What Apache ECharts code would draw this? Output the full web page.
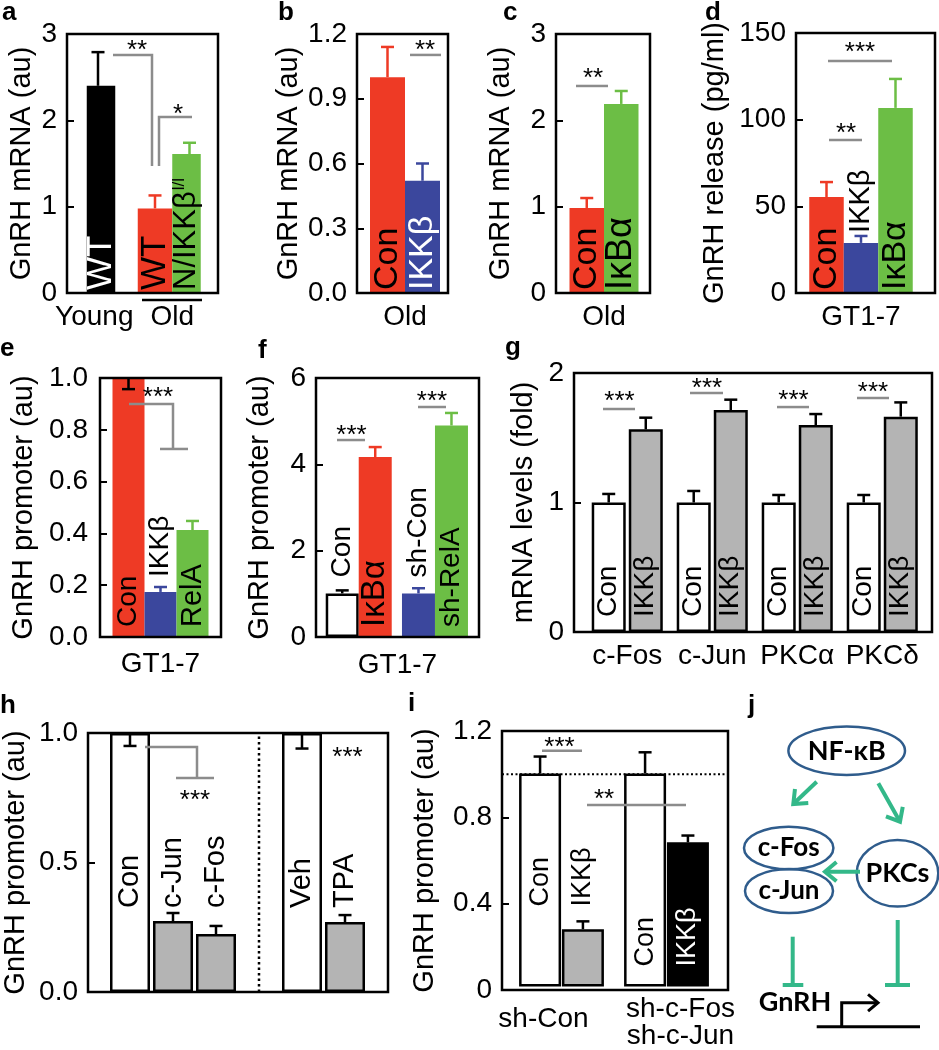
<!DOCTYPE html>
<html><head><meta charset="utf-8">
<script src="https://cdn.jsdelivr.net/npm/echarts@6/dist/echarts.min.js"></script>
<style>html,body{margin:0;padding:0;background:#fff}#c{width:939px;height:1050px}</style>
</head><body><div id="c"></div>
<script>
// ---------------- DATA ----------------
// a
const aCategories = ['Young', 'Old'];
const aBarLabels = ['WT', 'WT', 'N/IKKβ'];
const aValues = [2.40, 0.98, 1.61];
const aErrors = [0.39, 0.15, 0.13];
const aTicks = ['0', '1', '2', '3'];
// b
const bCategories = ['Old'];
const bBarLabels = ['Con', 'IKKβ'];
const bValues = [1.00, 0.52];
const bErrors = [0.14, 0.08];
const bTicks = ['0.0', '0.3', '0.6', '0.9', '1.2'];
// c
const cCategories = ['Old'];
const cBarLabels = ['Con', 'IκBα'];
const cValues = [0.985, 2.19];
const cErrors = [0.115, 0.15];
const cTicks = ['0', '1', '2', '3'];
// d
const dCategories = ['GT1-7'];
const dBarLabels = ['Con', 'IKKβ', 'IκBα'];
const dValues = [55.4, 28.9, 106.8];
const dErrors = [8.6, 4.0, 16.7];
const dTicks = ['0', '50', '100', '150'];
// e
const eCategories = ['GT1-7'];
const eBarLabels = ['Con', 'IKKβ', 'RelA'];
const eValues = [1.00, 0.174, 0.413];
const eErrors = [0.043, 0.019, 0.035];
const eTicks = ['0.0', '0.2', '0.4', '0.6', '0.8', '1.0'];
// f
const fAxisName = 'GT1-7';
const fGroups = ['Con / IκBα', 'sh-Con / sh-RelA'];
const fBarLabels = ['Con', 'IκBα', 'sh-Con', 'sh-RelA'];
const fValues = [1.01, 4.17, 1.01, 4.90];
const fErrors = [0.07, 0.23, 0.12, 0.29];
const fTicks = ['0', '2', '4', '6'];
// g
const gCategories = ['c-Fos', 'c-Jun', 'PKCα', 'PKCδ'];
const gBarLabels = ['Con', 'IKKβ'];
const gConValues = [1.0, 1.0, 1.0, 1.0];
const gConErrors = [0.066, 0.089, 0.058, 0.058];
const gIkkValues = [1.565, 1.714, 1.598, 1.663];
const gIkkErrors = [0.09, 0.08, 0.085, 0.11];
const gTicks = ['0', '1', '2'];
// h
const hCategories = ['', 'Con', 'c-Jun', 'c-Fos', ' ', 'Veh', 'TPA', '  '];
const hValues = [null, 1.0, 0.274, 0.224, null, 1.0, 0.270, null];
const hErrors = [null, 0.05, 0.031, 0.031, null, 0.06, 0.027, null];
const hTicks = ['0.0', '0.5', '1.0'];
// i
const iCategories = ['sh-Con', 'sh-c-Fos\nsh-c-Jun'];
const iBarLabels = ['Con', 'IKKβ'];
const iConValues = [1.0, 1.0];
const iConErrors = [0.08, 0.10];
const iIkkValues = [0.269, 0.677];
const iIkkErrors = [0.037, 0.032];
const iTicks = ['0', '0.4', '0.8', '1.2'];
// j (diagram text)
const jNodes = ['NF-κB', 'c-Fos', 'c-Jun', 'PKCs', 'GnRH'];

// ---------------- STYLE ----------------
const FONT = '"Liberation Sans", Arial, Helvetica, sans-serif';
const RED = '#EE3A25', BLUE = '#3B479D', GREEN = '#6CBE45', GREY = '#B4B4B4';
const BLACK = '#000000', WHITE = '#FFFFFF', SIG = '#8C8C8C';
const TEAL = '#33B889', NAVY = '#2F5C8C';
const get = (a, i) => Array.isArray(a) ? a[i] : a;

const panels = [
 { // a
  frame:{left:67,top:34,width:151,height:259}, barArea:{left:86.75,width:114},
  yMax:3, yInterval:1, ticks:aTicks, yName:'GnRH mRNA (au)', yNameGap:31,
  cats:[{value:aCategories[0], textStyle:{padding:[0,42,0,0]}}, aCategories[1]], catMargin:11,
  barWidth:34.5, barGap:0, labelSize:35,
  series:[
   {values:[aValues[0],aValues[1]], errors:[aErrors[0],aErrors[1]], colors:[BLACK,RED], errColors:[BLACK,RED],
    labels:[aBarLabels[0],aBarLabels[1]], labelColors:[WHITE,BLACK], labelPos:'in', labelDist:3},
   {values:[null,aValues[2]], errors:[null,aErrors[2]], colors:GREEN, errColors:GREEN,
    labels:['',aBarLabels[2]+'{s|l/l}'], labelColors:BLACK, labelPos:'in', labelDist:3, labelSize:31}
  ],
  lines:[{pts:[[0,-2.25,2.757],[1,-20.25,2.757],[1,-20.25,1.471]]},
         {pts:[[1,-13.25,1.471],[1,-13.25,2.039],[1,19.75,2.039]]},
         {pts:[[1,-30.25,-0.081],[1,29.75,-0.081]], color:BLACK}],
  stars:[[0,21.75,2.873,'**'],[1,5.75,2.137,'*']]
 },
 { // b
  frame:{left:357,top:34,width:91,height:259}, barArea:{left:359.5,width:91},
  yMax:1.2, yInterval:0.3, ticks:bTicks, yName:'GnRH mRNA (au)', yNameGap:54,
  cats:bCategories, catMargin:11, barWidth:35, barGap:0, labelSize:34,
  series:[
   {values:[bValues[0]], errors:[bErrors[0]], colors:RED, errColors:RED, labels:bBarLabels[0], labelColors:BLACK, labelPos:'in', labelDist:3},
   {values:[bValues[1]], errors:[bErrors[1]], colors:BLUE, errColors:BLUE, labels:bBarLabels[1], labelColors:WHITE, labelPos:'in', labelDist:3}
  ],
  lines:[{pts:[[0,5,1.103],[0,36,1.103]]}],
  stars:[[0,20,1.149,'**']]
 },
 { // c
  frame:{left:556,top:34,width:94,height:259}, barArea:{left:557,width:94},
  yMax:3, yInterval:1, ticks:cTicks, yName:'GnRH mRNA (au)', yNameGap:41,
  cats:cCategories, catMargin:11, barWidth:34.5, barGap:0, labelSize:34,
  series:[
   {values:[cValues[0]], errors:[cErrors[0]], colors:RED, errColors:RED, labels:cBarLabels[0], labelColors:BLACK, labelPos:'in', labelDist:3},
   {values:[cValues[1]], errors:[cErrors[1]], colors:GREEN, errColors:GREEN, labels:cBarLabels[1], labelColors:BLACK, labelPos:'in', labelDist:3, labelSize:36}
  ],
  lines:[{pts:[[0,-28,2.398],[0,4,2.398]]}],
  stars:[[0,-11,2.548,'**']]
 },
 { // d
  frame:{left:796,top:33,width:139,height:260}, barArea:{left:791.5,width:139},
  yMax:150, yInterval:50, ticks:dTicks, yName:'GnRH release (pg/ml)', yNameGap:67,
  cats:dCategories, catMargin:11, barWidth:34.5, barGap:0, labelSize:34,
  series:[
   {values:[dValues[0]], errors:[dErrors[0]], colors:RED, errColors:RED, labels:dBarLabels[0], labelColors:BLACK, labelPos:'in', labelDist:3},
   {values:[dValues[1]], errors:[dErrors[1]], colors:BLUE, errColors:BLUE, labels:dBarLabels[1], labelColors:BLACK, labelPos:'top', labelDist:10, labelSize:29},
   {values:[dValues[2]], errors:[dErrors[2]], colors:GREEN, errColors:GREEN, labels:dBarLabels[2], labelColors:BLACK, labelPos:'in', labelDist:3}
  ],
  lines:[{pts:[[0,-33,133.8],[0,31,133.8]]},{pts:[[0,-32,88.3],[0,1,88.3]]}],
  stars:[[0,-1,141.9,'***'],[0,-15,95.5,'**']]
 },
 { // e
  frame:{left:100,top:378,width:121,height:259},
  yMax:1.0, yInterval:0.2, ticks:eTicks, yName:'GnRH promoter (au)', yNameGap:62, tickMargin:12,
  cats:eCategories, catMargin:14, barWidth:32, barGap:0, labelSize:28,
  series:[
   {values:[eValues[0]], errors:[eErrors[0]], errDir:-1, colors:RED, errColors:BLACK, labels:eBarLabels[0], labelColors:BLACK, labelPos:'in', labelDist:10},
   {values:[eValues[1]], errors:[eErrors[1]], colors:BLUE, errColors:BLUE, labels:eBarLabels[1], labelColors:BLACK, labelPos:'top', labelDist:15},
   {values:[eValues[2]], errors:[eErrors[2]], colors:GREEN, errColors:GREEN, labels:eBarLabels[2], labelColors:BLACK, labelPos:'in', labelDist:10, labelSize:29}
  ],
  lines:[{pts:[[0,-31.5,0.90],[0,12.5,0.90],[0,12.5,0.726]]},{pts:[[0,-0.5,0.726],[0,27.5,0.726]]}],
  stars:[[0,-2.5,0.946,'***']]
 },
 { // f
  frame:{left:316,top:378,width:163,height:259}, barArea:{left:320.6,width:152.5},
  yMax:6, yInterval:2, ticks:fTicks, yName:'GnRH promoter (au)', yNameGap:42,
  cats:fGroups, hideCats:true, xName:fAxisName, xNameGap:14, barWidth:33, barGap:0, labelSize:28,
  series:[
   {values:[fValues[0],fValues[2]], errors:[fErrors[0],fErrors[2]], colors:[WHITE,BLUE], border:[true,false], errColors:[BLACK,BLUE],
    labels:[fBarLabels[0],fBarLabels[2]], labelColors:BLACK, labelPos:'top', labelDist:16},
   {values:[fValues[1],fValues[3]], errors:[fErrors[1],fErrors[3]], colors:[RED,GREEN], errColors:[RED,GREEN],
    labels:[fBarLabels[1],fBarLabels[3]], labelColors:BLACK, labelPos:'in', labelDist:10, labelSize:[33,28]}
  ],
  lines:[{pts:[[0,-21.75,4.563],[0,6.25,4.563]]},{pts:[[1,-17,5.328],[1,11,5.328]]}],
  stars:[[0,-7.25,4.795,'***'],[1,-3,5.583,'***']]
 },
 { // g
  frame:{left:574,top:373,width:358,height:259}, barArea:{left:584.75,width:340},
  yMax:2, yInterval:1, ticks:gTicks, yName:'mRNA levels (fold)', yNameGap:36,
  cats:gCategories, catMargin:11, barWidth:34, barGap:0.09, labelSize:28,
  series:[
   {values:gConValues, errors:gConErrors, colors:WHITE, border:true, errColors:BLACK, labels:gBarLabels[0], labelColors:BLACK, labelPos:'in', labelDist:15},
   {values:gIkkValues, errors:gIkkErrors, colors:GREY, border:true, errColors:BLACK, labels:gBarLabels[1], labelColors:BLACK, labelPos:'in', labelDist:15}
  ],
  lines:[{pts:[[0,-24.25,1.722],[0,7.75,1.722]]},{pts:[[1,-22.25,1.846],[1,10.75,1.846]]},
         {pts:[[2,-20.25,1.737],[2,11.75,1.737]]},{pts:[[3,-25.25,1.807],[3,6.75,1.807]]}],
  stars:[[0,-7.75,1.822,'***'],[1,-5.25,1.923,'***'],[2,-3.75,1.834,'***'],[3,-9.25,1.896,'***']]
 },
 { // h
  frame:{left:87,top:733,width:301,height:259},
  yMax:1.0, yInterval:0.5, ticks:hTicks, yName:'GnRH promoter (au)', yNameGap:58,
  cats:hCategories, hideCats:true, boundaryGap:false, barWidth:40, barGap:0, labelSize:29,
  series:[
   {values:hValues, errors:hErrors, errDir:[1,-1,1,1,1,-1,1,1],
    colors:[null,WHITE,GREY,GREY,null,WHITE,GREY,null], border:true, errColors:BLACK,
    labels:hCategories.map(s=>s.trim()), labelColors:BLACK, labelPos:'in', labelDist:84}
  ],
  lines:[{pts:[[1,15,0.946],[2,24,0.946],[2,24,0.826]]},{pts:[[2,3,0.826],[3,-2,0.826]]},
         {pts:[[4,0,0],[4,0,1.0]], color:BLACK, dash:[2.5,3], width:2.5}],
  stars:[[2,22,0.7625,'***'],[6,2.5,0.927,'***']]
 },
 { // i
  frame:{left:502,top:731,width:226,height:259}, barArea:{left:509,width:210},
  yMax:1.2, yInterval:0.4, ticks:iTicks, yName:'GnRH promoter (au)', yNameGap:63,
  cats:[{value:iCategories[0], textStyle:{padding:[10,36,0,0]}}, {value:iCategories[1], textStyle:{padding:[0,0,0,28]}}],
  catMargin:9, barWidth:42, barGap:0.02, labelSize:27, hDotted:[1.0],
  series:[
   {values:iConValues, errors:iConErrors, colors:WHITE, border:true, errColors:BLACK, labels:iBarLabels[0], labelColors:BLACK, labelPos:'in', labelDist:[80,20]},
   {values:iIkkValues, errors:iIkkErrors, colors:[GREY,BLACK], border:true, errColors:BLACK, labels:iBarLabels[1], labelColors:[BLACK,WHITE], labelPos:'in', labelDist:[80,20]}
  ],
  lines:[{pts:[[0,-19.5,1.1075],[0,20.5,1.1075]]},{pts:[[0,25.5,0.8526],[1,19.5,0.8526]]}],
  stars:[[0,-2,1.149,'***'],[0,42.5,0.9036,'**']]
 }
];

const option = {animation:false, grid:[], xAxis:[], yAxis:[], series:[], graphic:[]};

function buildPanel(P) {
  const gi = option.grid.length;
  option.grid.push({left:P.frame.left, top:P.frame.top, width:P.frame.width, height:P.frame.height});
  const ba = P.barArea || {left:P.frame.left, width:P.frame.width};
  option.grid.push({left:ba.left, top:P.frame.top, width:ba.width, height:P.frame.height});
  const fx = option.xAxis.length;
  option.xAxis.push({gridIndex:gi, type:'value', min:0, max:1, axisLine:{show:false}, axisTick:{show:false},
    axisLabel:{show:false}, splitLine:{show:false}, name:P.xName||'', nameLocation:'middle', nameGap:P.xNameGap||13,
    nameTextStyle:{fontSize:28, color:'#000', fontFamily:FONT, verticalAlign:'top'}});
  const fy = option.yAxis.length;
  option.yAxis.push({gridIndex:gi, type:'value', min:0, max:P.yMax, interval:P.yInterval,
    axisLine:{show:false}, axisTick:{show:true, inside:true, length:7, lineStyle:{color:'#000', width:2}},
    axisLabel:{color:'#000', fontSize:28, fontFamily:FONT, margin:P.tickMargin||10,
      formatter:(v)=>P.ticks[Math.round(v/P.yInterval)]},
    splitLine:{show:false}, name:P.yName, nameLocation:'middle', nameGap:P.yNameGap,
    nameTextStyle:{fontSize:29, color:'#000', fontFamily:FONT}});
  const bx = option.xAxis.length;
  option.xAxis.push({gridIndex:gi+1, type:'category', data:P.cats, boundaryGap:P.boundaryGap!==false,
    axisLine:{show:false}, axisTick:{show:false}, splitLine:{show:false},
    axisLabel:{show:!P.hideCats, interval:0, color:'#000', fontSize:28, fontFamily:FONT, margin:P.catMargin||11, lineHeight:27}});
  const by = option.yAxis.length;
  option.yAxis.push({gridIndex:gi+1, type:'value', min:0, max:P.yMax, show:false, splitLine:{show:false}});

  const n = P.series.length;
  const gapPx = P.barWidth*(P.barGap||0);
  P.series.forEach((S,k)=>{
    const off = (k-(n-1)/2)*(P.barWidth+gapPx);
    option.series.push({type:'bar', xAxisIndex:bx, yAxisIndex:by, barWidth:P.barWidth, barGap:((P.barGap||0)*100)+'%',
      z:2, silent:true, animation:false,
      data:S.values.map((v,i)=> v==null ? '-' : {value:v,
        itemStyle:{color:get(S.colors,i), borderColor:'#000', borderWidth:get(S.border,i)?2.5:0},
        label:{show:!!get(S.labels,i), formatter:get(S.labels,i)||'', position:get(S.labelPos,i)==='top'?'top':'insideBottom',
          distance:get(S.labelDist,i), rotate:90, align:'left', verticalAlign:'middle',
          color:get(S.labelColors,i), fontSize:get(S.labelSize,i)||P.labelSize, fontFamily:FONT,
          rich:{s:{fontSize:17, fontFamily:FONT, color:get(S.labelColors,i), verticalAlign:'top', padding:[0,0,0,1]}}}})
    });
    option.series.push({type:'custom', xAxisIndex:bx, yAxisIndex:by, z:3, silent:true, animation:false,
      data:S.values.map((v,i)=> v==null ? null : [i, v, get(S.errors,i), get(S.errDir,i)||1]).filter(d=>d),
      renderItem:(params, api)=>{
        const i=api.value(0), v=api.value(1), e=api.value(2), dir=api.value(3);
        const p0=api.coord([i,v]), p1=api.coord([i,v+dir*e]);
        const x=p0[0]+off, c=get(S.errColors,i);
        return {type:'group', children:[
          {type:'line', shape:{x1:x,y1:p0[1],x2:x,y2:p1[1]}, style:{stroke:c, lineWidth:2.5}},
          {type:'line', shape:{x1:x-6.5,y1:p1[1],x2:x+6.5,y2:p1[1]}, style:{stroke:c, lineWidth:2.5}}
        ]};
      }
    });
  });
  // significance brackets & stars
  option.series.push({type:'custom', xAxisIndex:bx, yAxisIndex:by, z:4, silent:true, animation:false, data:[[0,0]],
    renderItem:(params, api)=>{
      const X=(c,dx)=>api.coord([c,0])[0]+dx, Y=(v)=>api.coord([0,v])[1];
      const ch=[];
      (P.lines||[]).forEach(L=>ch.push({type:'polyline', shape:{points:L.pts.map(p=>[X(p[0],p[1]),Y(p[2])])},
        style:{stroke:L.color||SIG, lineWidth:L.width||2.5, fill:'none', lineDash:L.dash||null}}));
      (P.stars||[]).forEach(s=>ch.push({type:'text', x:X(s[0],s[1]), y:Y(s[2])+6,
        style:{text:s[3], fill:'#000', fontSize:26, fontFamily:FONT, align:'center', verticalAlign:'middle', textAlign:'center', textVerticalAlign:'middle'}}));
      return {type:'group', children:ch};
    }});
  // frame
  option.series.push({type:'custom', xAxisIndex:fx, yAxisIndex:fy, z:5, silent:true, animation:false, data:[[0.5,0]],
    renderItem:(params, api)=>{
      const cs=params.coordSys;
      const ch=[{type:'rect', shape:{x:cs.x, y:cs.y, width:cs.width, height:cs.height}, style:{fill:'none', stroke:'#000', lineWidth:2.5}}];
      (P.hDotted||[]).forEach(v=>{const y=api.coord([0,v])[1];
        ch.push({type:'line', shape:{x1:cs.x, y1:y, x2:cs.x+cs.width, y2:y}, style:{stroke:'#000', lineWidth:2, lineDash:[2,2.5]}});});
      return {type:'group', children:ch};
    }});
}
panels.forEach(buildPanel);

// panel letters
[['a',2,13],['b',278,13],['c',503,13],['d',705,13],['e',0,349],['f',258,351],['g',505,348],['h',0,706],['i',408,704],['j',748,706]]
 .forEach(([t,x,y])=>option.graphic.push({type:'text', x, y, silent:true,
   style:{text:t, fill:'#000', fontSize:26, fontWeight:'bold', fontFamily:FONT, align:'left', verticalAlign:'middle', textAlign:'left', textVerticalAlign:'middle'}}));

// panel j diagram
function chevron(tip, from, len, ang){
  const a=Math.atan2(from[1]-tip[1], from[0]-tip[0]), r=ang*Math.PI/180;
  return [[tip[0]+len*Math.cos(a+r), tip[1]+len*Math.sin(a+r)], tip, [tip[0]+len*Math.cos(a-r), tip[1]+len*Math.sin(a-r)]];
}
const JF = 'Lato, "Open Sans", "DejaVu Sans", sans-serif';
[[846.7,750.8,58.3,24.2],[788.7,848,44.7,21.3],[789,891,44,22],[897.5,873.3,40.8,33.3]].forEach(e=>
  option.graphic.push({type:'ellipse', silent:true, shape:{cx:e[0],cy:e[1],rx:e[2],ry:e[3]}, style:{fill:'none', stroke:NAVY, lineWidth:2.5}}));
[[jNodes[0],846.7,751,27],[jNodes[1],788.7,848,26],[jNodes[2],789,891,26],[jNodes[3],897.5,873.3,27],[jNodes[4],795,1002,27]].forEach(t=>
  option.graphic.push({type:'text', x:t[1], y:t[2], silent:true, style:{text:t[0], fill:'#000', fontSize:t[3], fontWeight:'bold', fontFamily:JF,
    align:'center', verticalAlign:'middle', textAlign:'center', textVerticalAlign:'middle'}}));
const arrows = [[[816.7,781.7],[793.3,804]], [[878.3,783.3],[900,821.7]], [[860,871.7],[825,871.7]]];
arrows.forEach(([f,t])=>{
  option.graphic.push({type:'line', silent:true, shape:{x1:f[0],y1:f[1],x2:t[0],y2:t[1]}, style:{stroke:TEAL, lineWidth:4}});
  option.graphic.push({type:'polyline', silent:true, shape:{points:chevron(t,f,15,40)}, style:{stroke:TEAL, lineWidth:4, fill:'none'}});
});
[[792.7,936.7,985,782.7,803.3],[897.7,920,985,885,910]].forEach(b=>{
  option.graphic.push({type:'line', silent:true, shape:{x1:b[0],y1:b[1],x2:b[0],y2:b[2]}, style:{stroke:TEAL, lineWidth:4}});
  option.graphic.push({type:'line', silent:true, shape:{x1:b[3],y1:b[2],x2:b[4],y2:b[2]}, style:{stroke:TEAL, lineWidth:4}});
});
option.graphic.push({type:'polyline', silent:true, shape:{points:[[841.7,1026.7],[841.7,1002.7],[877,1002.7]]}, style:{stroke:'#000', lineWidth:3, fill:'none'}});
option.graphic.push({type:'polyline', silent:true, shape:{points:chevron([878,1002.7],[841.7,1002.7],13,40)}, style:{stroke:'#000', lineWidth:3, fill:'none'}});
option.graphic.push({type:'line', silent:true, shape:{x1:816.7,y1:1026.7,x2:920,y2:1026.7}, style:{stroke:'#000', lineWidth:3}});

const chart = echarts.init(document.getElementById('c'), null, {renderer:'canvas', width:939, height:1050});
chart.setOption(option);
</script></body></html>
